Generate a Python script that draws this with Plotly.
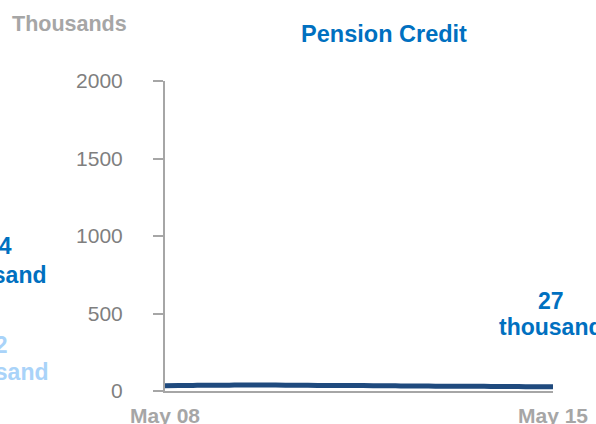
import plotly.graph_objects as go
import pandas as pd

# Data (thousands), quarterly May 2008 - May 2015
dates = pd.date_range("2008-05-01", "2015-05-01", freq="3MS")
values = [34, 35, 36, 37, 37, 38, 38, 38, 38, 37, 37, 36, 36, 35, 35,
          34, 34, 33, 33, 32, 31, 31, 30, 30, 29, 29, 28, 28, 27]
tick_dates = ["2008-05-01", "2015-05-01"]
tick_labels = ["May 08", "May 15"]
y_ticks = [0, 500, 1000, 1500, 2000]
title_text = "Pension Credit"
unit_text = "Thousands"
unit_word = "thousand"
other_numbers = ["14", "12"]

FONT = "Liberation Sans, Arial, sans-serif"
DARK = "#1F4A7E"
BLUE = "#0070C0"
LIGHT = "#A9D3F9"
GREY = "#A6A6A6"

L, R, T, B = 165, 43, 81, 33
W, H = 596, 424
PW, PH = W - L - R, H - T - B


def px(x):
    return (x - L) / PW


def py(y):
    return (H - B - y) / PH


fig = go.Figure()
fig.add_trace(go.Scatter(
    x=dates, y=values, mode="lines",
    line=dict(color=DARK, width=5, shape="spline"),
    showlegend=False, cliponaxis=False,
))

fig.update_layout(
    width=W, height=H, autosize=False,
    margin=dict(l=L, r=R, t=T, b=B),
    paper_bgcolor="white", plot_bgcolor="white",
    font=dict(family=FONT),
    title=dict(text=f"<b>{title_text}</b>", x=384 / W, xref="container",
               xanchor="center", y=1 - 34 / H, yref="container", yanchor="middle",
               font=dict(size=23.5, color=BLUE, family=FONT)),
)

fig.update_xaxes(
    range=[dates[0], dates[-1]],
    tickvals=tick_dates, ticktext=[f"<b>{t}</b>" for t in tick_labels],
    tickfont=dict(size=21, color=GREY, family=FONT),
    showgrid=False, zeroline=False, automargin=False,
    showline=True, linecolor=GREY, linewidth=2,
    ticks="", ticklabelstandoff=5,
)
fig.update_yaxes(
    range=[0, 2000], tickvals=y_ticks,
    tickfont=dict(size=21, color="#7F7F7F", family=FONT),
    showgrid=False, zeroline=False, automargin=False,
    showline=True, linecolor=GREY, linewidth=2,
    ticks="outside", ticklen=10, tickcolor=GREY, tickwidth=2,
    ticklabelstandoff=26,
)


def label(text, x, y, color, xanchor="center", size=23):
    return dict(text=f"<b>{text}</b>", xref="paper", yref="paper",
                x=px(x), y=py(y), xanchor=xanchor, yanchor="middle",
                showarrow=False, font=dict(size=size, color=color, family=FONT))


annotations = [
    label(unit_text, 69, 24, GREY, size=21.5),
    label(str(values[-1]), 551, 301, BLUE),
    label(unit_word, 497, 327, BLUE, "left"),
    label(other_numbers[0], 14, 246, BLUE, "right"),
    label(unit_word, 49, 275, BLUE, "right"),
    label(other_numbers[1], 10, 345, LIGHT, "right"),
    label(unit_word, 51, 372, LIGHT, "right"),
]
fig.update_layout(annotations=annotations)

fig.write_html("out.html", config={"displayModeBar": False},
               post_script="document.body.style.margin='0';")
